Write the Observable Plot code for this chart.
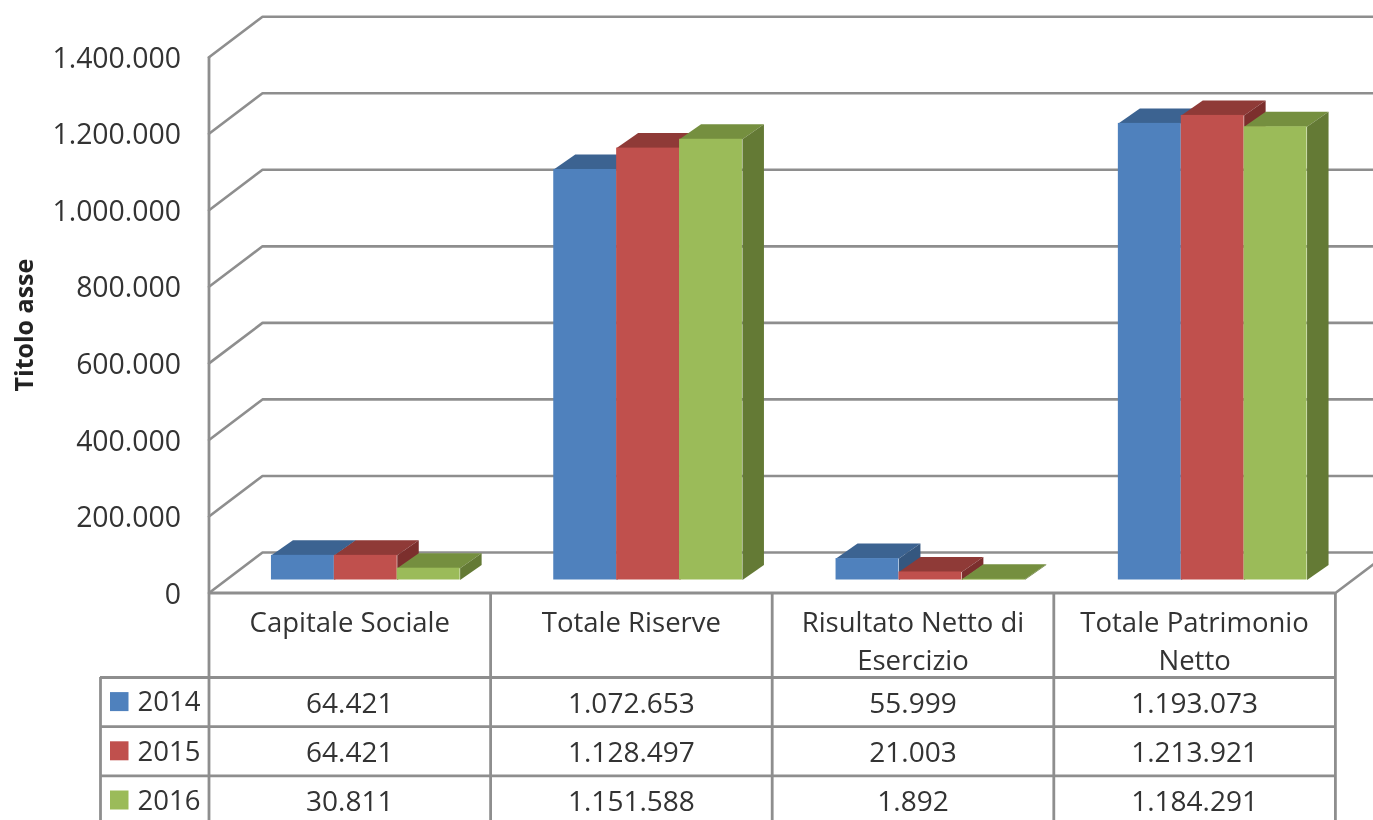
<!DOCTYPE html>
<html lang="it">
<head>
<meta charset="utf-8">
<script src="https://cdn.jsdelivr.net/npm/d3@7"></script>
<script src="https://cdn.jsdelivr.net/npm/@observablehq/plot@0.6"></script>
<style>
html,body{margin:0;padding:0;background:#fff;overflow:hidden}
svg{display:block}
</style>
</head>
<body>
<div id="chart"></div>
<script>
const categories = ["Capitale Sociale", "Totale Riserve", "Risultato Netto di\nEsercizio", "Totale Patrimonio\nNetto"];
const years = ["2014", "2015", "2016"];
const values2014 = [64421, 1072653, 55999, 1193073];
const values2015 = [64421, 1128497, 21003, 1213921];
const values2016 = [30811, 1151588, 1892, 1184291];
const yTicks = [0, 200000, 400000, 600000, 800000, 1000000, 1200000, 1400000];
const frontColors = ["#4F81BD", "#C0504D", "#9BBB59"];
const topColors = ["#3C6391", "#8F3A37", "#758F3F"];
const sideColors = ["#35577F", "#7C2F2D", "#647A35"];

const series = [values2014, values2015, values2016];
const itFormat = d3.formatLocale({decimal: ",", thousands: ".", grouping: [3], currency: ["€", ""]}).format(",d");

// Pixels per unit of each scale
const W = 1373, H = 820, left = 208.5, colW = 281.6, zero = 592.5, pxPerVal = 535.8 / 1400000;
const ux = px => px / colW, uy = px => px / pxPerVal;

// 3D projection offsets, in scale units
const wallDX = ux(53.5), wallDY = uy(40.5);
const barInsetX = ux(16), barInsetY = uy(13);
const barW = ux(62.9), barDX = ux(21.5), barDY = uy(15);
const barStep = ux(282.3);
const groupOffset = 0.5 + barInsetX - 1.5 * barW;

// Table layout, in scale units
const headerH = uy(84.5), rowH = uy(49.2);
const bottomVal = -uy(H - zero);
const rowTop = i => -(headerH + i * rowH);
const rowMid = i => rowTop(i) - rowH / 2;
const gridColor = "#8E8E8E", ink = "#333333", font = "'Open Sans', sans-serif";

// Bars, one table per visible face
const bars = categories.flatMap((c, ci) => years.map((year, si) => {
  const x1 = ci * barStep + groupOffset + si * barW;
  return {ci, si, x1, x2: x1 + barW, y1: barInsetY, y2: barInsetY + series[si][ci]};
}));
const faces = bars.flatMap(b => {
  const top = [[b.x1, b.y2], [b.x2, b.y2], [b.x2 + barDX, b.y2 + barDY], [b.x1 + barDX, b.y2 + barDY]];
  const side = [[b.x2, b.y1], [b.x2, b.y2], [b.x2 + barDX, b.y2 + barDY], [b.x2 + barDX, b.y1 + barDY]];
  return [
    ...top.map(([x, y]) => ({x, y, id: `t${b.ci}-${b.si}`, si: b.si, color: topColors[b.si]})),
    ...side.map(([x, y]) => ({x, y, id: `s${b.ci}-${b.si}`, si: b.si, color: sideColors[b.si]}))
  ];
});
const bySeries = si => ({
  front: bars.filter(b => b.si === si),
  faces: faces.filter(f => f.si === si)
});

const wallLines = yTicks.flatMap(t => [
  {x: 0, y: t, t},
  {x: wallDX, y: t + wallDY, t},
  {x: categories.length + wallDX, y: t + wallDY, t}
]);
const floorRight = [
  {x: categories.length, y: 0},
  {x: categories.length + wallDX, y: wallDY}
];

const cells = series.flatMap((vals, si) => vals.map((v, ci) => ({
  x: ci + 0.5, y: rowMid(si), label: itFormat(v)
})));
const yearCells = years.map((year, si) => ({year, si}));
const colEdges = d3.range(categories.length + 1);
const tableLeft = -ux(108.5);

const barMarks = years.flatMap((_, si) => {
  const {front, faces: fs} = bySeries(si);
  return [
    Plot.line(fs, {x: "x", y: "y", z: "id", fill: "color", stroke: "none"}),
    Plot.rect(front, {x1: "x1", x2: "x2", y1: "y1", y2: "y2", fill: frontColors[si]})
  ];
});

const chart = Plot.plot({
  width: W, height: H,
  marginLeft: left, marginRight: W - left - colW * categories.length,
  marginTop: zero - 535.8, marginBottom: H - zero,
  x: {domain: [0, categories.length], axis: null},
  y: {domain: [0, 1400000], axis: null},
  style: {fontFamily: font, background: "#fff", filter: "blur(0.7px)"},
  marks: [
    // walls and floor
    Plot.line(wallLines, {x: "x", y: "y", z: "t", stroke: gridColor, strokeWidth: 2.6}),
    Plot.line(floorRight, {x: "x", y: "y", stroke: gridColor, strokeWidth: 2.6}),
    // bars
    ...barMarks,
    // front axes
    Plot.ruleX([0], {y1: bottomVal, y2: 1400000, stroke: gridColor, strokeWidth: 2.8}),
    Plot.ruleY([0], {x1: 0, x2: categories.length, stroke: gridColor, strokeWidth: 2.8}),
    Plot.axisY({ticks: yTicks, tickFormat: itFormat, tickSize: 0, tickPadding: 28, fontSize: 28.4, fill: ink, label: null, dy: 1.5}),
    Plot.text(["Titolo asse"], {x: -ux(184), y: 700000, rotate: -90, fontSize: 25, fontWeight: "bold", fill: "#222"}),
    // data table
    Plot.ruleX(colEdges.slice(1), {y1: bottomVal, y2: 0, stroke: gridColor, strokeWidth: 2.8}),
    Plot.ruleX([tableLeft], {y1: bottomVal, y2: rowTop(0), stroke: gridColor, strokeWidth: 2.8}),
    Plot.ruleY(years.map((_, i) => rowTop(i)), {x1: tableLeft, x2: categories.length, stroke: gridColor, strokeWidth: 2.8}),
    Plot.text(categories, {
      x: (_, i) => i + 0.5, y: -uy(12), text: d => d, lineAnchor: "top", lineHeight: 1.38,
      fontSize: 27.5, fill: ink
    }),
    Plot.text(cells, {x: "x", y: "y", text: "label", fontSize: 28, fill: ink, dy: 1.5}),
    Plot.rect(yearCells, {
      x1: -ux(98.5), x2: -ux(80),
      y1: d => rowMid(d.si) + uy(9.5), y2: d => rowMid(d.si) - uy(9.5),
      fill: d => frontColors[d.si]
    }),
    Plot.text(yearCells, {
      x: -ux(71.5), y: d => rowMid(d.si), text: "year", textAnchor: "start", fontSize: 27.5, fill: ink, dy: 0.5
    })
  ]
});
document.getElementById("chart").appendChild(chart);
</script>
</body>
</html>
